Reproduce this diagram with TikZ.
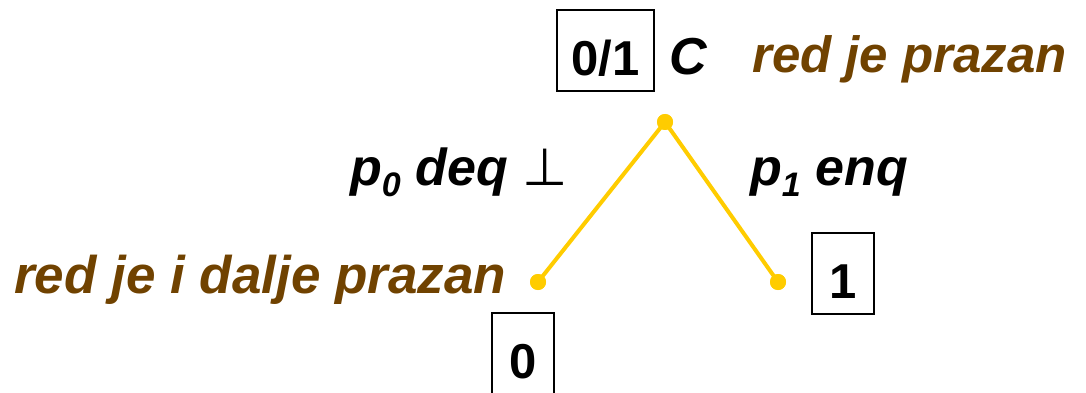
\documentclass[tikz,border=0pt]{standalone}
\usepackage{fontspec}
\setmainfont{Liberation Sans}
\newfontfamily\symfont{DejaVu Sans}
\definecolor{qbrown}{RGB}{112,66,0}
\definecolor{qyellow}{RGB}{255,204,0}
\newcommand{\bigtext}{\fontsize{52}{60}\selectfont}
\newcommand{\boxtext}{\fontsize{49}{58}\selectfont}
\newcommand{\subtext}{\fontsize{34}{40}\selectfont}
\begin{document}
\begin{tikzpicture}[x=1pt,y=-1pt,
  lbl/.style={inner sep=0pt, font=\bigtext\bfseries\itshape},
  note/.style={lbl, text=qbrown},
  valbox/.style={draw, line width=2pt, inner sep=0pt, font=\boxtext\bfseries,
    text height=50pt, text depth=0pt},
  dot/.style={circle, fill=qyellow, inner sep=0pt, minimum size=16pt},
  branch/.style={draw=qyellow, line width=4pt}]
\useasboundingbox (0,0) rectangle (1086,393);
% state boxes
\node[valbox, minimum width=97pt, minimum height=81pt] (b01) at (605.5,50.5) {0/1};
\node[valbox, minimum width=62pt, minimum height=81pt] (b1) at (843,273.5) {1};
\node[valbox, minimum width=62pt, minimum height=81pt] (b0) at (523,353.5) {0};
% labels
\node[lbl, anchor=base west] (c) at (669,75) {C};
\node[note, anchor=base west, font=\fontsize{51}{60}\selectfont\bfseries\itshape] (top) at (752,73) {red je prazan};
\node[note, anchor=base west, font=\fontsize{53}{60}\selectfont\bfseries\itshape] (left) at (14,293) {red je i dalje prazan};
\node[lbl, anchor=base west] (p0) at (350,185) {p\raisebox{-0.22em}{\subtext 0} deq {\symfont\upshape\mdseries ⊥}};
\node[lbl, anchor=base west] (p1) at (750,185) {p\raisebox{-0.22em}{\subtext 1} enq};
% execution tree
\node[dot] (root) at (665,122) {};
\node[dot] (l) at (538,282) {};
\node[dot] (r) at (778,282) {};
\draw[branch] (root.center) -- (l.center);
\draw[branch] (root.center) -- (r.center);
\node[dot] at (root) {};
\node[dot] at (l) {};
\node[dot] at (r) {};
\end{tikzpicture}
\end{document}
